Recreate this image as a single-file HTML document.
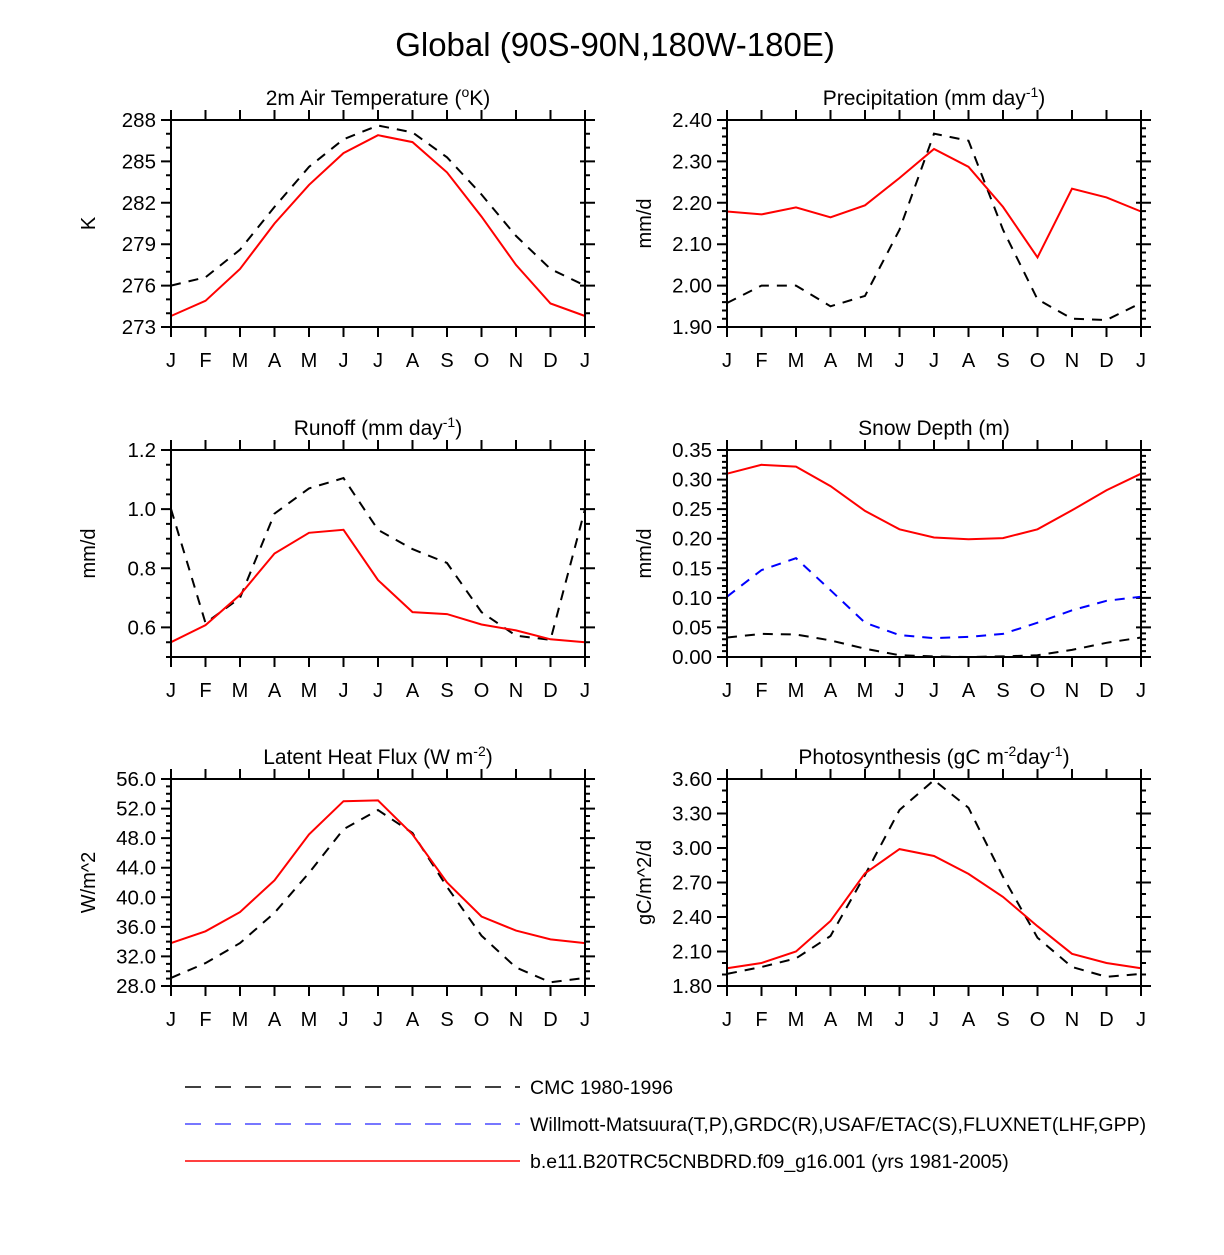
<!DOCTYPE html>
<html><head><meta charset="utf-8"><style>
html,body{margin:0;padding:0;background:#fff}
svg text{font-family:"Liberation Sans",sans-serif;fill:#000}
</style></head><body>
<svg id="chart" width="1224" height="1250" xmlns="http://www.w3.org/2000/svg">
<text x="615" y="56" font-size="33" text-anchor="middle">Global (90S-90N,180W-180E)</text>
<g id="panels"></g>
<g>
<line x1="185" y1="1087" x2="520" y2="1087" stroke="#000" stroke-width="1.5" stroke-dasharray="16,14"/>
<text x="530" y="1094" font-size="19.5">CMC 1980-1996</text>
<line x1="185" y1="1124" x2="520" y2="1124" stroke="#4a4aff" stroke-width="1.5" stroke-dasharray="16,14"/>
<text x="530" y="1131" font-size="19.5">Willmott-Matsuura(T,P),GRDC(R),USAF/ETAC(S),FLUXNET(LHF,GPP)</text>
<line x1="185" y1="1161" x2="520" y2="1161" stroke="#f00" stroke-width="1.5"/>
<text x="530" y="1168" font-size="19.5">b.e11.B20TRC5CNBDRD.f09_g16.001 (yrs 1981-2005)</text>
</g>
</svg>
<script>
const months = ["J","F","M","A","M","J","J","A","S","O","N","D","J"];
const tempCMC = [276.0,276.6,278.6,281.7,284.6,286.6,287.6,287.1,285.3,282.6,279.6,277.2,276.0];
const tempModel = [273.8,274.9,277.2,280.5,283.3,285.6,286.9,286.4,284.2,281.0,277.5,274.7,273.8];
const precCMC = [1.958,2.00,2.00,1.95,1.975,2.135,2.367,2.35,2.135,1.967,1.92,1.917,1.958];
const precModel = [2.179,2.172,2.189,2.165,2.194,2.26,2.33,2.287,2.19,2.068,2.234,2.213,2.179];
const runCMC = [1.0,0.615,0.70,0.985,1.07,1.105,0.93,0.865,0.818,0.652,0.572,0.558,1.0];
const runModel = [0.55,0.608,0.71,0.85,0.92,0.93,0.76,0.652,0.645,0.61,0.59,0.56,0.55];
const snowCMC = [0.033,0.039,0.038,0.028,0.014,0.003,0.001,0.0,0.001,0.003,0.012,0.024,0.033];
const snowObs = [0.102,0.147,0.167,0.113,0.058,0.037,0.032,0.034,0.039,0.058,0.079,0.095,0.102];
const snowModel = [0.31,0.325,0.322,0.289,0.247,0.216,0.202,0.199,0.201,0.216,0.248,0.282,0.31];
const lhfCMC = [29.1,31.1,33.8,37.9,43.3,49.2,51.8,48.7,41.4,34.8,30.5,28.5,29.1];
const lhfModel = [33.8,35.4,38.0,42.3,48.5,53.0,53.1,48.5,42.0,37.4,35.5,34.3,33.8];
const gppCMC = [1.905,1.965,2.04,2.235,2.765,3.33,3.59,3.35,2.75,2.22,1.965,1.88,1.905];
const gppModel = [1.955,2.0,2.10,2.365,2.78,2.99,2.93,2.775,2.575,2.32,2.08,2.0,1.955];
const tempTicks = [273,276,279,282,285,288];
const precTicks = [1.90,2.00,2.10,2.20,2.30,2.40];
const runTicks = [0.6,0.8,1.0,1.2];
const snowTicks = [0.00,0.05,0.10,0.15,0.20,0.25,0.30,0.35];
const lhfTicks = [28,32,36,40,44,48,52,56];
const gppTicks = [1.80,2.10,2.40,2.70,3.00,3.30,3.60];

const NS="http://www.w3.org/2000/svg";
const root=document.getElementById('panels');
function mk(tag,attrs,parent){const e=document.createElementNS(NS,tag);for(const k in attrs)e.setAttribute(k,attrs[k]);parent.appendChild(e);return e;}

const panels=[
 {name:'temperature',x0:171,y0:120,title:[['2m Air Temperature (',0],['o',1],['K)',0]],yt:'K',min:273,max:288,ticks:tempTicks,minor:1,dec:0,series:[[tempCMC,'#000',true],[tempModel,'#f00',false]]},
 {name:'precipitation',x0:727,y0:120,title:[['Precipitation (mm day',0],['-1',1],[')',0]],yt:'mm/d',min:1.9,max:2.4,ticks:precTicks,minor:0.02,dec:2,series:[[precCMC,'#000',true],[precModel,'#f00',false]]},
 {name:'runoff',x0:171,y0:450,title:[['Runoff (mm day',0],['-1',1],[')',0]],yt:'mm/d',min:0.5,max:1.2,ticks:runTicks,minor:0.05,dec:1,series:[[runCMC,'#000',true],[runModel,'#f00',false]]},
 {name:'snow-depth',x0:727,y0:450,title:[['Snow Depth (m)',0]],yt:'mm/d',min:0,max:0.35,ticks:snowTicks,minor:0.01,dec:2,series:[[snowCMC,'#000',true],[snowObs,'#00f',true],[snowModel,'#f00',false]]},
 {name:'latent-heat',x0:171,y0:779,title:[['Latent Heat Flux (W m',0],['-2',1],[')',0]],yt:'W/m^2',min:28,max:56,ticks:lhfTicks,minor:1,dec:1,series:[[lhfCMC,'#000',true],[lhfModel,'#f00',false]]},
 {name:'photosynthesis',x0:727,y0:779,title:[['Photosynthesis (gC m',0],['-2',1],['day',0],['-1',1],[')',0]],yt:'gC/m^2/d',min:1.8,max:3.6,ticks:gppTicks,minor:0.1,dec:2,series:[[gppCMC,'#000',true],[gppModel,'#f00',false]]}
];
const W=414,H=207;
panels.forEach(p=>{
 const g=mk('g',{},root);
 
 
 const xs=i=>p.x0+i*W/12;
 const ys=v=>p.y0+H-(v-p.min)/(p.max-p.min)*H;
 const t=mk('text',{x:p.x0+W/2,y:p.y0-15,'font-size':21,'text-anchor':'middle'},g);
 
 
 let prevSup=0;
 p.title.forEach(([s,sup])=>{
  const ts=mk('tspan',{},t);
  const dy=(sup?-8:0)-(prevSup?-8:0);
  if(dy)ts.setAttribute('dy',dy);
  if(sup)ts.setAttribute('font-size','14');
  ts.textContent=s;prevSup=sup;
 });
 const yt=mk('text',{x:0,y:0,'font-size':20,'text-anchor':'middle',transform:`translate(${p.x0-76},${p.y0+H/2}) rotate(-90)`},g);
 
 
 yt.textContent=p.yt;
 let path='';
 for(let i=0;i<13;i++){const x=xs(i);path+=`M${x},${p.y0}v-10M${x},${p.y0+H}v10`;}
 const nMin=Math.round((p.max-p.min)/p.minor);
 for(let k=0;k<=nMin;k++){const y=ys(p.min+k*p.minor);path+=`M${p.x0},${y}h-5M${p.x0+W},${y}h5`;}
 p.ticks.forEach(v=>{const y=ys(v);path+=`M${p.x0},${y}h-10M${p.x0+W-5},${y}h15`;});
 const tk=mk('path',{d:path,stroke:'#000','stroke-width':2,fill:'none'},g);
 
 
 p.ticks.forEach(v=>{
  const l=mk('text',{x:p.x0-15,y:ys(v)+7,'font-size':20.5,'text-anchor':'end'},g);
  
  
  l.textContent=v.toFixed(p.dec);
 });
 months.forEach((m,i)=>{
  const l=mk('text',{x:xs(i),y:p.y0+H+40,'font-size':20,'text-anchor':'middle'},g);
  
  
  l.textContent=m;
 });
 p.series.forEach((s,si)=>{
  const pts=s[0].map((v,i)=>xs(i).toFixed(1)+','+ys(v).toFixed(1)).join(' ');
  const a={points:pts,fill:'none',stroke:s[1],'stroke-width':2};
  if(s[2])a['stroke-dasharray']='10,8';
  const pl=mk('polyline',a,g);
  
  
 });
 const fr=mk('rect',{x:p.x0,y:p.y0,width:W,height:H,fill:'none',stroke:'#000','stroke-width':2},g);
 
 
});
</script>
</body></html>
